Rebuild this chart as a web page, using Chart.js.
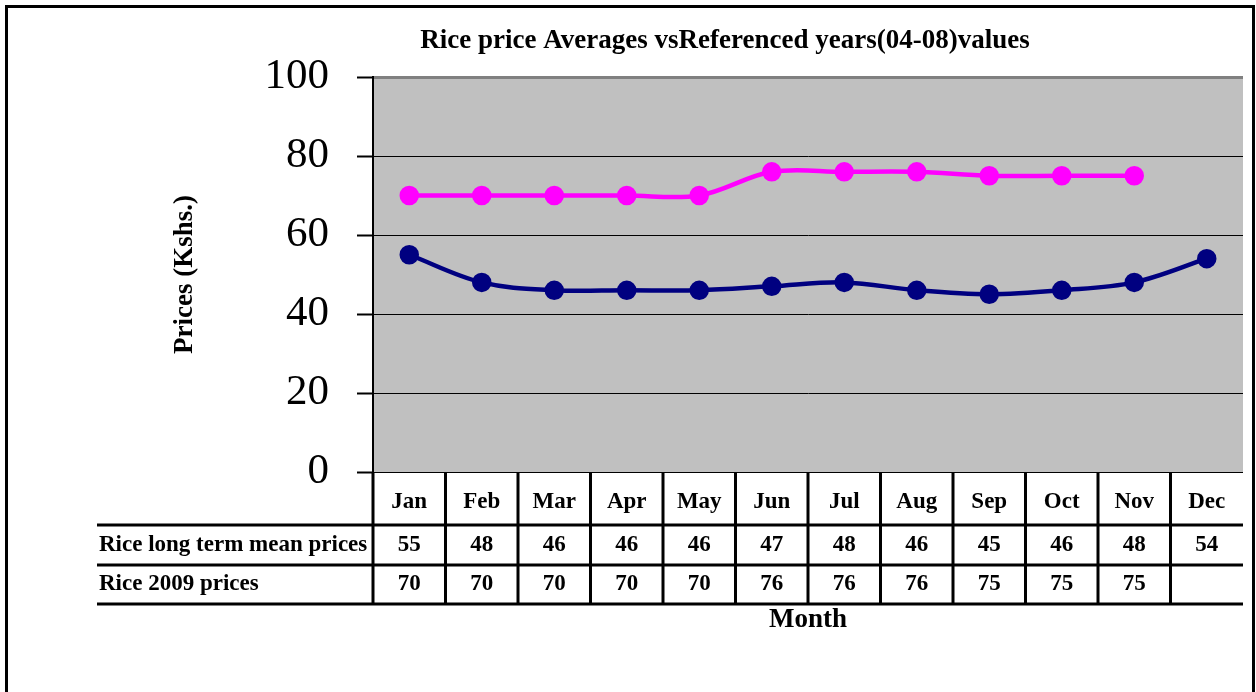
<!DOCTYPE html>
<html>
<head>
<meta charset="utf-8">
<script src="https://cdn.jsdelivr.net/npm/chart.js@4.4.1/dist/chart.umd.min.js"></script>
<style>
  body { margin: 0; background: #fff; }
  canvas { display: block; }
</style>
</head>
<body>
<canvas id="rice-chart" width="1256" height="692"></canvas>
<script>
// datos
const chartTitle = 'Rice price Averages vsReferenced years(04-08)values';
const months = ['Jan', 'Feb', 'Mar', 'Apr', 'May', 'Jun', 'Jul', 'Aug', 'Sep', 'Oct', 'Nov', 'Dec'];
const seriesNames = ['Rice long term mean prices', 'Rice 2009 prices'];
const longTermPrices = [55, 48, 46, 46, 46, 47, 48, 46, 45, 46, 48, 54];
const prices2009 = [70, 70, 70, 70, 70, 76, 76, 76, 75, 75, 75, null];
const yTicks = [0, 20, 40, 60, 80, 100];

const serif = "'Liberation Serif', 'Times New Roman', serif";
const ctx = document.getElementById('rice-chart').getContext('2d');

// fondo gris, marco y tabla de datos bajo el eje
const tablePlugin = {
  id: 'tablePlugin',
  beforeDraw(chart) {
    const c = chart.ctx;
    const a = chart.chartArea;
    c.save();
    c.fillStyle = '#fff';
    c.fillRect(0, 0, chart.width, chart.height);
    c.fillStyle = '#c0c0c0';
    c.fillRect(a.left, a.top, a.right - a.left, a.bottom - a.top);
    c.restore();
  },
  afterDraw(chart) {
    const c = chart.ctx;
    const a = chart.chartArea;
    const x = chart.scales.x;
    const colW = (a.right - a.left) / months.length;
    const row1 = 525, row2 = 565, row3 = 604;
    c.save();

    // titulo
    c.fillStyle = '#000';
    c.font = 'bold 27px ' + serif;
    c.textAlign = 'center';
    c.textBaseline = 'middle';
    c.fillText(chartTitle, 725, 41);

    // lineas de la tabla
    c.strokeStyle = '#000';
    c.lineWidth = 3;
    c.beginPath();
    [row1, row2, row3].forEach(y => {
      c.moveTo(97, y);
      c.lineTo(a.right, y);
    });
    for (let i = 0; i < months.length; i++) {
      const lx = a.left + i * colW;
      c.moveTo(lx, a.bottom);
      c.lineTo(lx, row3);
    }
    c.stroke();

    // valores de la tabla
    c.font = 'bold 23px ' + serif;
    c.textAlign = 'center';
    months.forEach((m, i) => {
      const cx = x.getPixelForValue(i);
      c.fillText(String(longTermPrices[i]), cx, (row1 + row2) / 2);
      if (prices2009[i] !== null) c.fillText(String(prices2009[i]), cx, (row2 + row3) / 2);
    });
    c.textAlign = 'left';
    c.fillText(seriesNames[0], 99, (row1 + row2) / 2);
    c.fillText(seriesNames[1], 99, (row2 + row3) / 2);

    // marco exterior
    c.lineWidth = 3;
    c.strokeRect(6.5, 6.5, 1247, 720);
    c.restore();
  }
};

const chart = new Chart(ctx, {
  type: 'line',
  data: {
    labels: months,
    datasets: [{
      label: seriesNames[0],
      data: longTermPrices,
      borderColor: '#000080',
      backgroundColor: '#000080',
      borderWidth: 4.5,
      pointRadius: 7.5,
      tension: 0.35
    }, {
      label: seriesNames[1],
      data: prices2009,
      borderColor: '#ff00ff',
      backgroundColor: '#ff00ff',
      borderWidth: 4.5,
      pointRadius: 7.5,
      tension: 0.35
    }]
  },
  options: {
    responsive: false,
    animation: false,
    layout: { padding: { top: 77, right: 13, left: 0, bottom: 0 } },
    plugins: {
      legend: { display: false },
      tooltip: { enabled: false }
    },
    scales: {
      x: {
        offset: true,
        grid: { display: false, drawTicks: false },
        border: { display: false },
        ticks: { color: '#000', font: { family: serif, size: 23, weight: 'bold' }, padding: 16, maxRotation: 0 },
        title: { display: true, text: 'Month', color: '#000', font: { family: serif, size: 27, weight: 'bold' }, padding: { top: 0, bottom: 56 } },
        afterFit(scale) { scale.height = 220; }
      },
      y: {
        min: 0,
        max: 100,
        afterBuildTicks(scale) { scale.ticks = yTicks.map(v => ({ value: v })); },
        grid: {
          color: c => (c.tick && c.tick.value === 100 ? '#808080' : '#000'),
          lineWidth: c => (c.tick && c.tick.value === 100 ? 3 : 1),
          tickLength: 16,
          tickColor: '#000',
          tickWidth: 2
        },
        border: { display: true, color: '#000', width: 2 },
        ticks: { color: '#000', font: { family: serif, size: 43 }, padding: 28 },
        title: { display: true, text: 'Prices (Kshs.)', color: '#000', font: { family: serif, size: 27, weight: 'bold' }, padding: { top: 169, bottom: 0 } },
        afterFit(scale) { scale.width = 373; }
      }
    }
  },
  plugins: [tablePlugin]
});
</script>
</body>
</html>
